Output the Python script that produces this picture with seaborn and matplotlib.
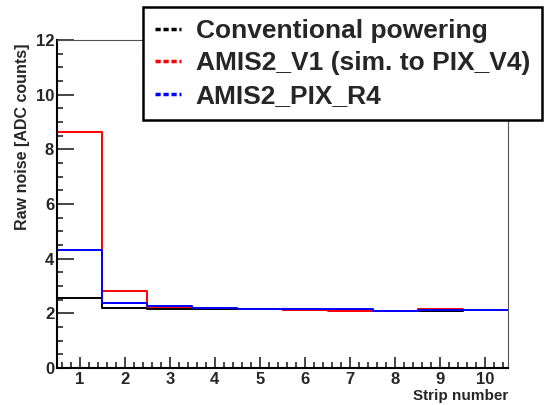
import numpy as np
import pandas as pd
import matplotlib
matplotlib.use("Agg")
import matplotlib.pyplot as plt
from matplotlib.lines import Line2D
from matplotlib.ticker import MultipleLocator
import seaborn as sns

# ===== data =====
strips = [1, 2, 3, 4, 5, 6, 7, 8, 9, 10]
conventional = [2.55, 2.18, 2.15, 2.17, 2.15, 2.13, 2.12, 2.08, 2.10]
amis2_v1 = [8.65, 2.82, 2.25, 2.18, 2.17, 2.12, 2.10, 2.10, 2.15]
amis2_pix_r4 = [4.33, 2.38, 2.28, 2.20, 2.15, 2.15, 2.15, 2.08, 2.12, 2.13]

series_names = ["Conventional powering", "AMIS2_V1 (sim. to PIX_V4)", "AMIS2_PIX_R4"]
series_vals = [conventional, amis2_v1, amis2_pix_r4]
colors = ["black", "#ff0000", "#0000ff"]

# histogram-style: left bin edges plus the closing edge
rows = []
for name, vals in zip(series_names, series_vals):
    n = len(vals)
    edges = [s - 0.5 for s in strips[:n]] + [strips[n - 1] + 0.5]
    ys = list(vals) + [vals[-1]]
    for e, v in zip(edges, ys):
        rows.append({"edge": e, "noise": v, "series": name})
df = pd.DataFrame(rows)

sns.set_style("ticks")
plt.rcParams["font.family"] = ["Liberation Sans", "DejaVu Sans"]
plt.rcParams["font.weight"] = "bold"

fig = plt.figure(figsize=(5.47, 4.05), dpi=100)
ax = fig.add_axes([57 / 547, 37 / 405, 451 / 547, 328 / 405])

sns.lineplot(data=df, x="edge", y="noise", hue="series", hue_order=series_names,
             palette=colors, drawstyle="steps-post", estimator=None, sort=False,
             linewidth=1.4, legend=False, ax=ax)

ax.set_xlim(0.5, 10.5)
ax.set_ylim(0, 12)
ax.xaxis.set_major_locator(MultipleLocator(1))
ax.xaxis.set_minor_locator(MultipleLocator(0.2))
ax.yaxis.set_major_locator(MultipleLocator(2))
ax.yaxis.set_minor_locator(MultipleLocator(0.5))
ax.tick_params(which="both", direction="in", top=False, right=False, width=1.2)
ax.tick_params(which="major", axis="y", length=12, labelsize=12, pad=2)
ax.tick_params(which="major", axis="x", length=8, labelsize=12, pad=3)
ax.tick_params(which="minor", length=4)
for lab in ax.get_xticklabels() + ax.get_yticklabels():
    lab.set_fontweight("bold")

for s in ["left", "bottom"]:
    ax.spines[s].set_linewidth(1.5)
    ax.spines[s].set_color("black")
for s in ["top", "right"]:
    ax.spines[s].set_linewidth(0.8)
    ax.spines[s].set_color("#555555")

ax.set_xlabel("Strip number", fontsize=11, fontweight="bold", ha="right", x=1.0, labelpad=1)
ax.set_ylabel("Raw noise [ADC counts]", fontsize=11.5, fontweight="bold", ha="right", y=0.99,
              labelpad=4)

handles = [Line2D([], [], color=c, linestyle=(0, (1.5, 0.8)), linewidth=2.5) for c in colors]
leg = fig.legend(handles, series_names, loc="upper left", bbox_to_anchor=(143 / 547, 1 - 7 / 405),
                 frameon=True, fancybox=False, edgecolor="black", framealpha=1,
                 prop={"size": 19, "weight": "bold"}, handlelength=1.0, handletextpad=0.55,
                 labelspacing=0.32, borderpad=0.45, borderaxespad=0)
leg.get_frame().set_linewidth(1.8)

fig.savefig("out.png", dpi=100)
